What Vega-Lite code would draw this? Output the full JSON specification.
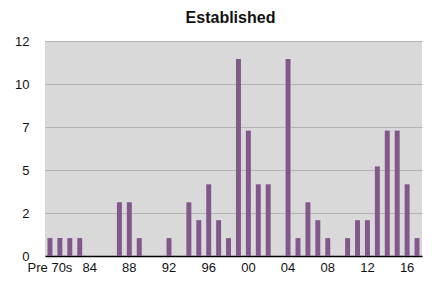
{
  "$schema": "https://vega.github.io/schema/vega-lite/v6.json",
  "width": 377,
  "height": 215,
  "autosize": {"type": "none"},
  "padding": {"left": 45, "top": 41, "right": 21, "bottom": 35},
  "background": "white",
  "title": {"text": "Established", "font": "Liberation Sans", "fontSize": 16, "fontWeight": "bold", "color": "#111", "anchor": "middle", "offset": 9, "dx": -3},
  "config": {
    "view": {"fill": "#d9d9d9", "stroke": null},
    "axis": {"labelFont": "Liberation Sans", "labelFontSize": 13, "labelColor": "#111"}
  },
  "data": {
    "values": [
      {"period": "Pre 70s", "count": 1},
      {"period": "70s", "count": 1},
      {"period": "80s", "count": 1},
      {"period": "83", "count": 1},
      {"period": "84", "count": 0},
      {"period": "85", "count": 0},
      {"period": "86", "count": 0},
      {"period": "87", "count": 3},
      {"period": "88", "count": 3},
      {"period": "89", "count": 1},
      {"period": "90", "count": 0},
      {"period": "91", "count": 0},
      {"period": "92", "count": 1},
      {"period": "93", "count": 0},
      {"period": "94", "count": 3},
      {"period": "95", "count": 2},
      {"period": "96", "count": 4},
      {"period": "97", "count": 2},
      {"period": "98", "count": 1},
      {"period": "99", "count": 11},
      {"period": "00", "count": 7},
      {"period": "01", "count": 4},
      {"period": "02", "count": 4},
      {"period": "03", "count": 0},
      {"period": "04", "count": 11},
      {"period": "05", "count": 1},
      {"period": "06", "count": 3},
      {"period": "07", "count": 2},
      {"period": "08", "count": 1},
      {"period": "09", "count": 0},
      {"period": "10", "count": 1},
      {"period": "11", "count": 2},
      {"period": "12", "count": 2},
      {"period": "13", "count": 5},
      {"period": "14", "count": 7},
      {"period": "15", "count": 7},
      {"period": "16", "count": 4},
      {"period": "17", "count": 1}
    ]
  },
  "mark": {"type": "bar", "color": "#82588c"},
  "encoding": {
    "x": {
      "field": "period", "type": "ordinal", "sort": null,
      "scale": {"paddingInner": 0.5, "paddingOuter": 0.25},
      "axis": {
        "title": null, "labelAngle": 0, "ticks": false, "domainColor": "#000", "domainWidth": 1.5,
        "labelOverlap": false, "labelBound": false, "labelPadding": 5,
        "labelExpr": "indexof(['Pre 70s','84','88','92','96','00','04','08','12','16'], datum.label) >= 0 ? datum.label : ''"
      }
    },
    "y": {
      "field": "count", "type": "quantitative",
      "scale": {"domain": [0, 12], "nice": false},
      "axis": {
        "title": null, "values": [0, 2.4, 4.8, 7.2, 9.6, 12], "format": ".0f",
        "domain": false, "ticks": false, "labelPadding": 16,
        "gridColor": "#b3b3b3", "gridWidth": 1
      }
    }
  }
}
